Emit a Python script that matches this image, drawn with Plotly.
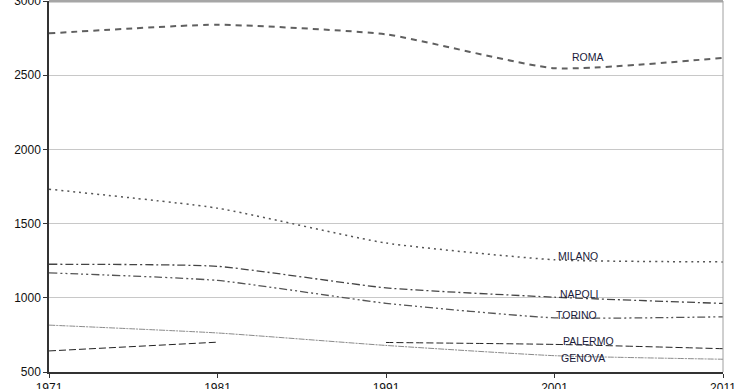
import plotly.graph_objects as go

years = [1971, 1981, 1991, 2001, 2011]
roma = [2782, 2840, 2775, 2547, 2617]
milano = [1732, 1604, 1369, 1256, 1242]
napoli = [1226, 1212, 1067, 1004, 962]
torino = [1168, 1117, 963, 865, 872]
palermo = [642, 701, 699, 686, 657]
genova = [816, 763, 679, 610, 586]
y_ticks = [500, 1000, 1500, 2000, 2500, 3000]

fig = go.Figure()

def add(x, y, color, dash, width, shape="spline"):
    fig.add_trace(go.Scatter(x=x, y=y, mode="lines",
                             line=dict(color=color, dash=dash, width=width, shape=shape, smoothing=0.5),
                             showlegend=False, hoverinfo="skip"))

add(years, roma, "#606060", "6px,5px", 2)
add(years, milano, "#555555", "2px,4px", 1.5)
add(years, napoli, "#444444", "8px,3px,2px,3px", 1.3)
add(years, torino, "#555555", "8px,3px,2px,3px,2px,3px", 1.3)
add(years, genova, "#8a8a8a", "6px,1px,2px,1px", 1)
add(years[:2], palermo[:2], "#222222", "7px,3px", 1)
add(years[2:], palermo[2:], "#222222", "7px,3px", 1)

labels = [("ROMA", 2003.0, 2622), ("MILANO", 2002.4, 1284), ("NAPOLI", 2002.5, 1027),
          ("TORINO", 2002.3, 885), ("PALERMO", 2003.0, 709), ("GENOVA", 2002.7, 594)]
for t, xv, yv in labels:
    fig.add_annotation(x=xv, y=yv, text=t, showarrow=False, xanchor="center", yanchor="middle",
                       font=dict(family="Liberation Sans, Arial", size=10.5, color="#1a1a3a"))

fig.add_shape(type="line", xref="paper", yref="paper", x0=0, x1=1, y0=1, y1=1,
              line=dict(color="#a6a6a6", width=3))
fig.add_shape(type="line", xref="paper", yref="paper", x0=1, x1=1, y0=0, y1=1,
              line=dict(color="#a0a0a0", width=1))

fig.update_layout(
    width=740, height=389,
    margin=dict(l=49, r=17, t=1, b=17),
    paper_bgcolor="white", plot_bgcolor="white",
    xaxis=dict(range=[1971, 2011], tickvals=years, ticktext=[str(y) for y in years],
               showgrid=False, showline=True, linecolor="#333333", linewidth=1.5,
               ticks="outside", ticklen=4, tickcolor="#333333", zeroline=False,
               tickfont=dict(family="Liberation Sans, Arial", size=12, color="#111111"),
               automargin=False, ticklabeloverflow="allow"),
    yaxis=dict(range=[500, 3000], tickvals=y_ticks, showgrid=True, gridcolor="#c8c8c8",
               showline=True, linecolor="#333333", linewidth=1.5, ticks="outside", ticklen=4,
               tickcolor="#333333", zeroline=False,
               tickfont=dict(family="Liberation Sans, Arial", size=12, color="#111111"),
               automargin=False, ticklabeloverflow="allow"),
)

fig.write_html("out.html", config={"displayModeBar": False},
               post_script="document.body.style.margin='0';document.body.style.overflow='hidden';")
